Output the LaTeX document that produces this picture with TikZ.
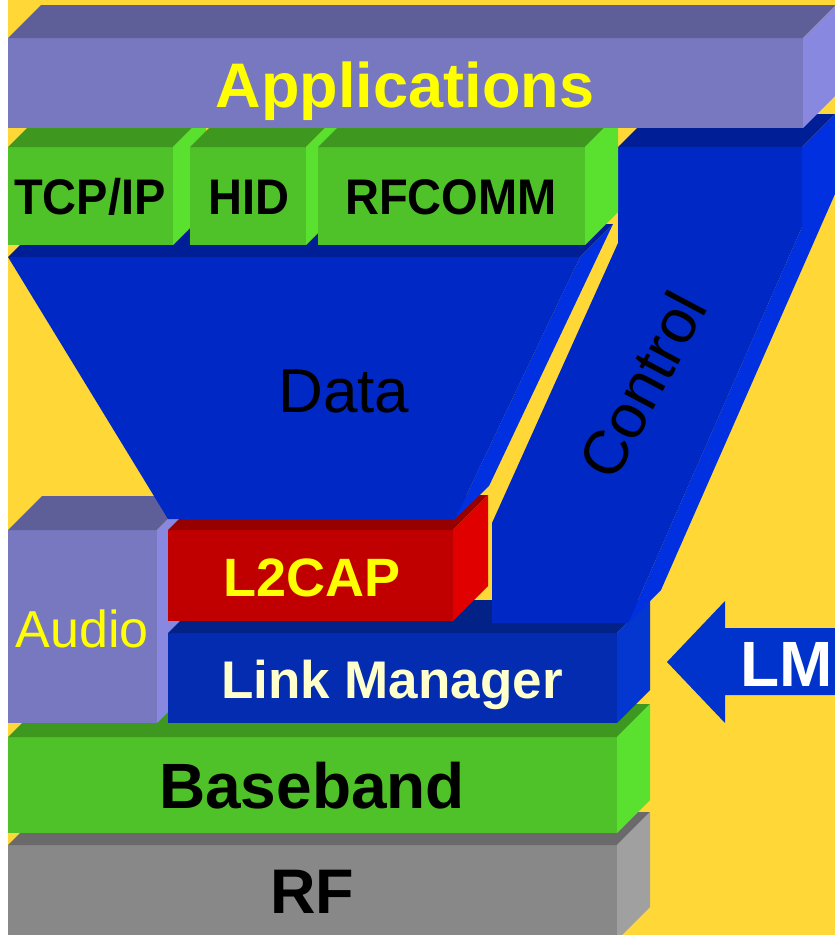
\documentclass[tikz,border=0pt]{standalone}
\usepackage{fontspec}
\setmainfont{Liberation Sans}
\newfontfamily\condsans[FakeStretch=0.94]{Liberation Sans}
\definecolor{bgY}{RGB}{255,216,56}
\definecolor{appF}{RGB}{120,120,192}
\definecolor{appT}{RGB}{94,94,152}
\definecolor{appS}{RGB}{136,136,224}
\definecolor{grnF}{RGB}{78,194,40}
\definecolor{grnT}{RGB}{62,152,32}
\definecolor{grnS}{RGB}{90,224,46}
\definecolor{datF}{RGB}{0,40,196}
\definecolor{datT}{RGB}{0,30,150}
\definecolor{datS}{RGB}{0,48,224}
\definecolor{redF}{RGB}{192,0,0}
\definecolor{redT}{RGB}{150,0,0}
\definecolor{redS}{RGB}{224,0,0}
\definecolor{lmF}{RGB}{3,44,176}
\definecolor{lmT}{RGB}{2,34,136}
\definecolor{lmS}{RGB}{4,54,208}
\definecolor{rfF}{RGB}{136,136,136}
\definecolor{rfT}{RGB}{106,106,106}
\definecolor{rfS}{RGB}{160,160,160}
\definecolor{arrB}{RGB}{0,51,204}
\definecolor{cream}{RGB}{255,255,204}
\definecolor{txtY}{RGB}{255,255,0}
% x1 y1 x2 y2 depth colourprefix
\newcommand\drawblock[6]{%
  \fill[#6F] (#1,#2) rectangle (#3,#4);
  \fill[#6T] (#1,#2) -- (#3,#2) -- (#3+#5,#2-#5) -- (#1+#5,#2-#5) -- cycle;
  \fill[#6S] (#3,#2) -- (#3+#5,#2-#5) -- (#3+#5,#4-#5) -- (#3,#4) -- cycle;}
\tikzset{
  lbl/.style={inner sep=0pt, anchor=base},
  boldlbl/.style={lbl, font=\fontsize{#1}{#1}\selectfont\bfseries},
  condlbl/.style={lbl, font=\condsans\fontsize{#1}{#1}\selectfont\bfseries},
  reglbl/.style={lbl, font=\fontsize{#1}{#1}\selectfont},
}
\begin{document}
\begin{tikzpicture}[x=1pt,y=-1pt]
\useasboundingbox (0,0) rectangle (835,935);
\clip (0,0) rectangle (835,935);
% background
\fill[bgY] (0,0) rectangle (835,935);
\fill[white] (0,0) rectangle (8,935);
% RF and Baseband
\drawblock{8}{845}{617}{940}{33}{rf}
\drawblock{8}{737}{617}{833}{33}{grn}
% Audio
\drawblock{8}{530}{157}{723}{34}{app}
% Link Manager
\drawblock{168}{633}{617}{723}{33}{lm}
% L2CAP
\drawblock{168}{530}{453}{621}{35}{red}
% Control
\fill[datT] (618,147) -- (802,147) -- (835,114) -- (651,114) -- cycle;
\fill[datS] (802,147) -- (835,114) -- (835,194) -- (661,590) -- (628,623) -- (802,227) -- cycle;
\fill[datF] (618,147) -- (802,147) -- (802,227) -- (628,623) -- (492,623) -- (492,523) -- (618,243) -- cycle;
% Data funnel
\fill[datT] (8,257) -- (580,257) -- (613,224) -- (41,224) -- cycle;
\fill[datS] (580,257) -- (613,224) -- (489,486) -- (455,519) -- cycle;
\fill[datF] (8,257) -- (580,257) -- (455,519) -- (168,519) -- cycle;
% upper protocols
\drawblock{8}{147}{173}{245}{33}{grn}
\drawblock{190}{147}{306}{245}{33}{grn}
\drawblock{318}{147}{585}{245}{33}{grn}
% Applications
\drawblock{8}{38}{803}{128}{33}{app}
% LM arrow
\fill[arrB] (667,662) -- (725,601) -- (725,628) -- (845,628) -- (845,695) -- (725,695) -- (725,723) -- cycle;
% labels
\node[boldlbl=63, text=txtY] (tapp) at (405,107) {Applications};
\node[condlbl=50] (ttcp) at (90,214) {TCP/IP};
\node[condlbl=50] (thid) at (249,214) {HID};
\node[condlbl=50] (trfc) at (451,214) {RFCOMM};
\node[reglbl=62] (tdata) at (344,412) {Data};
\node[font=\fontsize{62}{62}\selectfont, inner sep=0pt, rotate=62] (tctl) at (642,385) {Control};
\node[boldlbl=54, text=txtY] (tl2) at (312,596) {L2CAP};
\node[reglbl=52, text=txtY] (taud) at (82,647) {Audio};
\node[boldlbl=53, text=cream] (tlm) at (392,698) {Link Manager};
\node[boldlbl=64] (tbb) at (312,808) {Baseband};
\node[boldlbl=63] (trf) at (312,913) {RF};
\node[boldlbl=64, text=white, anchor=base west] (tlmarr) at (740,686) {LM};
\end{tikzpicture}
\end{document}
